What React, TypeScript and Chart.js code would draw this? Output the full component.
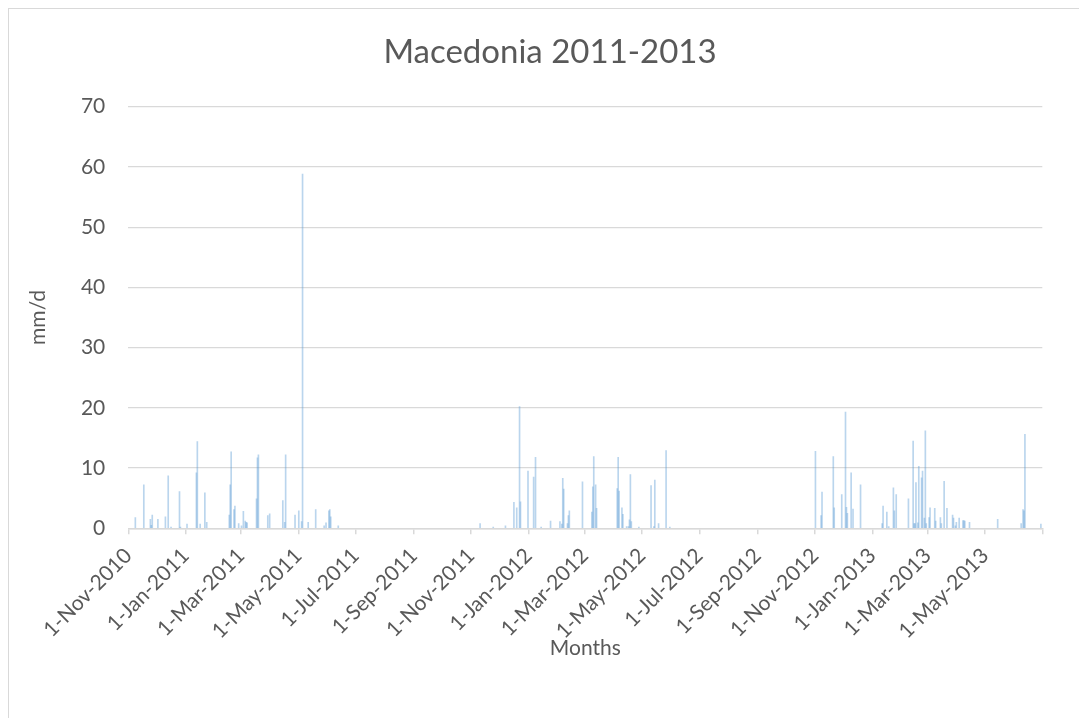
import { useEffect, useRef } from 'react';
import { Chart, registerables } from 'chart.js';

Chart.register(...registerables);

const FONT = 'Lato, "Open Sans", sans-serif';
const TEXT = '#595959';
const LINE = '#d9d9d9';

const CHART_TITLE = 'Macedonia 2011-2013';
const X_TITLE = 'Months';
const Y_TITLE = 'mm/d';

// First day of the daily series (day index 0)
const SERIES_START = '2010-11-01';
const SERIES_END = '2013-07-01';

// Days with measured precipitation (all other days are 0)
const rainDates = [
  '2010-11-08', '2010-11-17', '2010-11-24', '2010-11-25', '2010-11-26',
  '2010-12-02', '2010-12-10', '2010-12-13', '2010-12-16', '2010-12-25', '2010-12-26',
  '2011-01-02', '2011-01-12', '2011-01-13', '2011-01-16', '2011-01-21', '2011-01-23',
  '2011-02-16', '2011-02-17', '2011-02-18', '2011-02-21', '2011-02-22', '2011-02-26',
  '2011-03-01', '2011-03-03', '2011-03-05', '2011-03-06', '2011-03-07', '2011-03-17',
  '2011-03-18', '2011-03-19', '2011-03-29', '2011-03-31',
  '2011-04-14', '2011-04-16', '2011-04-17', '2011-04-27',
  '2011-05-01', '2011-05-04', '2011-05-05', '2011-05-11', '2011-05-19', '2011-05-28', '2011-05-30',
  '2011-06-02', '2011-06-03', '2011-06-04', '2011-06-12',
  '2011-11-10', '2011-11-24',
  '2011-12-07', '2011-12-16', '2011-12-19', '2011-12-22', '2011-12-23', '2011-12-31',
  '2012-01-06', '2012-01-08', '2012-01-14', '2012-01-24',
  '2012-02-03', '2012-02-05', '2012-02-06', '2012-02-07', '2012-02-11', '2012-02-12',
  '2012-02-13', '2012-02-27',
  '2012-03-08', '2012-03-09', '2012-03-10', '2012-03-12', '2012-03-13',
  '2012-04-04', '2012-04-05', '2012-04-06', '2012-04-09', '2012-04-10', '2012-04-14',
  '2012-04-16', '2012-04-17', '2012-04-18', '2012-04-19', '2012-04-27',
  '2012-05-10', '2012-05-13', '2012-05-14', '2012-05-18', '2012-05-26', '2012-05-30',
  '2012-11-01', '2012-11-07', '2012-11-08', '2012-11-20', '2012-11-21', '2012-11-29',
  '2012-12-03', '2012-12-04', '2012-12-05', '2012-12-09', '2012-12-11', '2012-12-19',
  '2013-01-11', '2013-01-12', '2013-01-16', '2013-01-18', '2013-01-23', '2013-01-24', '2013-01-26',
  '2013-02-08', '2013-02-13', '2013-02-14', '2013-02-15', '2013-02-16', '2013-02-18',
  '2013-02-19', '2013-02-22', '2013-02-23', '2013-02-25', '2013-02-26', '2013-02-27',
  '2013-03-02', '2013-03-03', '2013-03-08', '2013-03-09', '2013-03-14', '2013-03-15',
  '2013-03-18', '2013-03-21', '2013-03-27', '2013-03-28', '2013-03-30', '2013-03-31',
  '2013-04-03', '2013-04-07', '2013-04-08', '2013-04-09', '2013-04-14',
  '2013-05-14',
  '2013-06-08', '2013-06-10', '2013-06-11', '2013-06-12', '2013-06-29',
];

const rainMm = [
  1.8, 7.2, 1.5, 0.5, 2.2,
  1.5, 1.9, 8.7, 0.2, 6.1, 0.2,
  0.7, 9.2, 14.4, 0.7, 5.9, 1.0,
  2.2, 7.2, 12.7, 3.1, 3.7, 0.8,
  0.4, 2.8, 1.2, 1.0, 0.9, 4.9,
  11.7, 12.2, 2.1, 2.4,
  4.6, 1.0, 12.2, 2.2,
  2.9, 1.1, 58.8, 1.0, 3.1, 0.4, 0.9,
  2.9, 3.1, 1.9, 0.4,
  0.8, 0.2,
  0.4, 4.3, 3.4, 20.2, 4.4, 9.5,
  8.5, 11.8, 0.2, 1.2,
  1.1, 0.7, 8.3, 6.5, 0.8, 2.1,
  2.9, 7.7,
  2.7, 6.9, 11.9, 7.2, 3.3,
  6.6, 11.8, 6.2, 3.4, 2.3, 0.3,
  0.3, 1.4, 8.9, 1.1, 0.2,
  7.1, 0.3, 8.0, 0.8, 12.9, 0.2,
  12.8, 2.1, 6.0, 11.9, 3.4, 5.6,
  19.3, 3.5, 2.5, 9.2, 3.2, 7.2,
  0.8, 3.7, 2.7, 0.3, 6.7, 2.9, 5.6,
  4.9, 14.5, 0.8, 0.8, 7.6, 0.9,
  10.3, 8.4, 9.5, 1.7, 16.2, 0.8,
  1.8, 3.4, 3.3, 1.2, 1.8, 0.8,
  7.8, 3.3, 2.2, 1.7, 0.4, 1.0,
  1.7, 1.3, 1.3, 1.2, 1.0,
  1.5,
  0.8, 3.1, 2.9, 15.6, 0.7,
];

// Major ticks every two months; the last one closes the axis without a label
const tickDates = [
  '2010-11-01', '2011-01-01', '2011-03-01', '2011-05-01', '2011-07-01', '2011-09-01',
  '2011-11-01', '2012-01-01', '2012-03-01', '2012-05-01', '2012-07-01', '2012-09-01',
  '2012-11-01', '2013-01-01', '2013-03-01', '2013-05-01', '2013-07-01',
];
const tickLabels = [
  '1-Nov-2010', '1-Jan-2011', '1-Mar-2011', '1-May-2011', '1-Jul-2011', '1-Sep-2011',
  '1-Nov-2011', '1-Jan-2012', '1-Mar-2012', '1-May-2012', '1-Jul-2012', '1-Sep-2012',
  '1-Nov-2012', '1-Jan-2013', '1-Mar-2013', '1-May-2013', '',
];

const Y_MIN = 0;
const Y_MAX = 70;
const Y_STEP = 10;

const dayIndex = (iso: string): number => {
  const [y, m, d] = iso.split('-').map(Number);
  const [sy, sm, sd] = SERIES_START.split('-').map(Number);
  return Math.round((Date.UTC(y, m - 1, d) - Date.UTC(sy, sm - 1, sd)) / 86400000);
};

const titlesPlugin = {
  id: 'titles',
  afterDraw(chart: any) {
    const { ctx, chartArea } = chart;
    ctx.save();
    ctx.fillStyle = TEXT;
    ctx.textAlign = 'center';
    ctx.textBaseline = 'alphabetic';
    ctx.font = `33px ${FONT}`;
    ctx.fillText(CHART_TITLE, 541, 54);
    ctx.font = `21px ${FONT}`;
    ctx.fillText(X_TITLE, (chartArea.left + chartArea.right) / 2, 646);
    ctx.translate(29, (chartArea.top + chartArea.bottom) / 2);
    ctx.rotate(-Math.PI / 2);
    ctx.textBaseline = 'middle';
    ctx.fillText(Y_TITLE, 0, 0);
    ctx.restore();
  },
};

export default function App() {
  const canvasRef = useRef<HTMLCanvasElement | null>(null);

  useEffect(() => {
    document.documentElement.style.overflow = 'hidden';
    const canvas = canvasRef.current;
    if (!canvas) return;

    const points = rainDates.map((d, i) => ({ x: dayIndex(d) + 0.5, y: rainMm[i] }));
    const tickDays = tickDates.map(dayIndex);

    const chart = new Chart(canvas, {
      type: 'bar',
      data: {
        datasets: [
          {
            label: 'Precipitation',
            data: points,
            backgroundColor: 'rgba(91,155,213,0.42)',
            borderWidth: 0,
            barThickness: 1,
          },
        ],
      },
      plugins: [titlesPlugin],
      options: {
        animation: false,
        responsive: false,
        devicePixelRatio: 1,
        layout: { padding: { top: 97.7, left: 0, right: 44.7, bottom: 0 } },
        plugins: {
          legend: { display: false },
          title: { display: false },
          tooltip: { enabled: false },
        },
        scales: {
          x: {
            type: 'linear',
            offset: false,
            min: 0,
            max: dayIndex(SERIES_END),
            afterBuildTicks: (scale: any) => {
              scale.ticks = tickDays.map((v) => ({ value: v }));
            },
            afterFit: (scale: any) => {
              scale.height = 189.7;
            },
            ticks: {
              autoSkip: false,
              minRotation: 45,
              maxRotation: 45,
              padding: 9,
              color: TEXT,
              font: { family: FONT, size: 21 },
              callback: (value: any) => {
                const i = tickDays.indexOf(Number(value));
                return i >= 0 ? tickLabels[i] : '';
              },
            },
            grid: {
              offset: false,
              drawOnChartArea: false,
              drawTicks: true,
              tickLength: 6,
              color: LINE,
              lineWidth: 1.5,
            },
            border: { display: true, color: LINE, width: 1.5 },
          },
          y: {
            min: Y_MIN,
            max: Y_MAX,
            afterFit: (scale: any) => {
              scale.width = 119.3;
            },
            ticks: {
              stepSize: Y_STEP,
              padding: 23,
              color: TEXT,
              font: { family: FONT, size: 21 },
            },
            grid: { color: LINE, lineWidth: 1.2, drawTicks: false },
            border: { display: false },
          },
        },
      },
    } as any);

    return () => chart.destroy();
  }, []);

  return (
    <div
      style={{
        width: 1079,
        height: 710,
        borderTop: `1px solid ${LINE}`,
        borderLeft: `1px solid ${LINE}`,
        boxSizing: 'border-box',
        background: '#fff',
      }}
    >
      <canvas ref={canvasRef} width={1078} height={709} style={{ display: 'block' }} />
    </div>
  );
}
